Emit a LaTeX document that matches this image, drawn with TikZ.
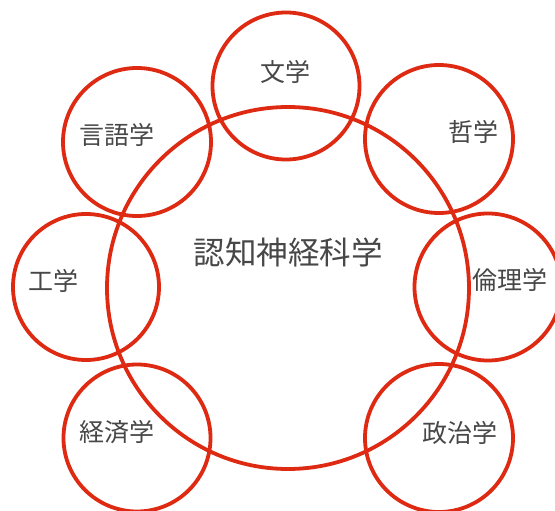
\documentclass[tikz,border=0pt]{standalone}
\usepackage{fontspec}
\newfontfamily\cjk{Noto Sans CJK JP}
\definecolor{ring}{HTML}{DE2A12}
\definecolor{txt}{HTML}{474747}
\begin{document}
\begin{tikzpicture}[x=1pt,y=-1pt,
  ringline/.style={draw=ring,line width=3.8pt},
  lbl/.style={text=txt,font=\cjk\fontsize{25}{28}\selectfont,inner sep=0pt},
  biglbl/.style={text=txt,font=\cjk\fontsize{31.5}{36}\selectfont,inner sep=0pt}]
\useasboundingbox (0,0) rectangle (555,511);
\fill[white] (0,0) rectangle (555,511);
\draw[ringline] (288,288) circle (181);
\draw[ringline] (286,86) circle (73.5);
\draw[ringline] (439,139) circle (74);
\draw[ringline] (488,287) circle (73.5);
\draw[ringline] (439,438) circle (74);
\draw[ringline] (137,438) circle (73.5);
\draw[ringline] (86,287) circle (73);
\draw[ringline] (137,142) circle (74);
\node[biglbl] (center) at (288,252) {認知神経科学};
\node[lbl] (bun) at (285,72) {文学};
\node[lbl] (tetsu) at (473,132) {哲学};
\node[lbl] (rinri) at (510,280) {倫理学};
\node[lbl] (seiji) at (460,433) {政治学};
\node[lbl] (keizai) at (117,432) {経済学};
\node[lbl] (kou) at (53,281) {工学};
\node[lbl] (gengo) at (117,135) {言語学};
\end{tikzpicture}
\end{document}
